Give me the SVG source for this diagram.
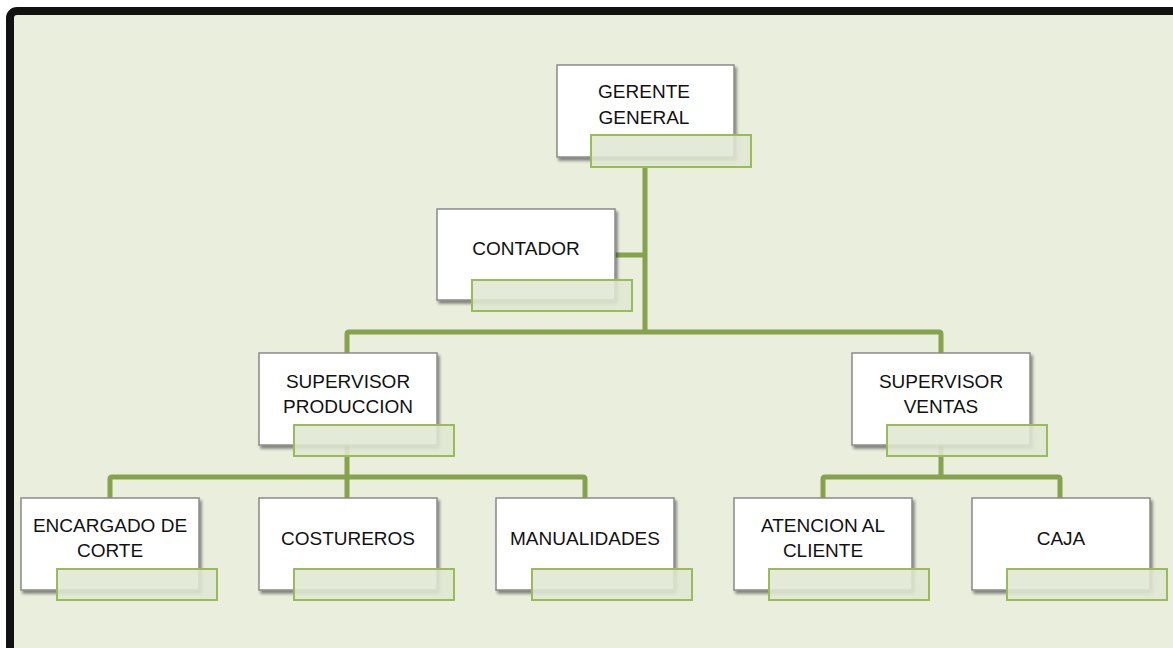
<svg xmlns="http://www.w3.org/2000/svg" width="1173" height="648" viewBox="0 0 1173 648">
<defs>
<filter id="sh" x="-10%" y="-10%" width="130%" height="140%">
<feGaussianBlur in="SourceAlpha" stdDeviation="1.5"/>
<feOffset dx="2" dy="3" result="o"/>
<feComponentTransfer><feFuncA type="linear" slope="0.45"/></feComponentTransfer>
<feMerge><feMergeNode/><feMergeNode in="SourceGraphic"/></feMerge>
</filter>
</defs>
<style>
.box{fill:#ffffff;stroke:#8a8a8a;stroke-width:1.5;filter:url(#sh)}
.lbl{fill:#dfe7d1;fill-opacity:0.88;stroke:#9bbb59;stroke-width:2}
.t{font-family:"Liberation Sans",Arial,sans-serif;font-size:19px;fill:#111;text-anchor:middle}
.c{fill:none;stroke:#85a24d;stroke-width:5;stroke-linejoin:round}
</style>
<rect x="0" y="0" width="1173" height="648" fill="#ffffff"/>
<rect x="10" y="11" width="1200" height="700" rx="7" fill="#eaeedd" stroke="#111111" stroke-width="8"/>
<g id="connectors">
<path class="c" d="M645 167 V332"/>
<path class="c" d="M615 255 H645"/>
<path class="c" d="M347 353 V334 Q347 332 349 332 H939 Q941 332 941 334 V353"/>
<path class="c" d="M347 445 V477"/>
<path class="c" d="M110 498 V479 Q110 477 112 477 H583 Q585 477 585 479 V498"/>
<path class="c" d="M347 477 V498"/>
<path class="c" d="M941 445 V477"/>
<path class="c" d="M823 498 V479 Q823 477 825 477 H1058 Q1060 477 1060 479 V498"/>
</g>
<g id="gerente">
<rect class="box" x="557" y="65" width="177" height="92"/>
<text class="t" x="644" y="98">GERENTE</text>
<text class="t" x="644" y="124">GENERAL</text>
<rect class="lbl" x="591" y="135" width="160" height="32"/>
</g>
<g id="contador">
<rect class="box" x="437" y="209" width="178" height="91"/>
<text class="t" x="526" y="255">CONTADOR</text>
<rect class="lbl" x="472" y="280" width="160" height="31"/>
</g>
<g id="sup-produccion">
<rect class="box" x="259" y="353" width="178" height="92"/>
<text class="t" x="348" y="388">SUPERVISOR</text>
<text class="t" x="348" y="413">PRODUCCION</text>
<rect class="lbl" x="294" y="425" width="160" height="31"/>
</g>
<g id="sup-ventas">
<rect class="box" x="852" y="353" width="178" height="92"/>
<text class="t" x="941" y="388">SUPERVISOR</text>
<text class="t" x="941" y="413">VENTAS</text>
<rect class="lbl" x="887" y="425" width="160" height="31"/>
</g>
<g id="encargado">
<rect class="box" x="21" y="498" width="178" height="92"/>
<text class="t" x="110" y="532">ENCARGADO DE</text>
<text class="t" x="110" y="557">CORTE</text>
<rect class="lbl" x="57" y="569" width="160" height="31"/>
</g>
<g id="costureros">
<rect class="box" x="259" y="498" width="178" height="92"/>
<text class="t" x="348" y="545">COSTUREROS</text>
<rect class="lbl" x="294" y="569" width="160" height="31"/>
</g>
<g id="manualidades">
<rect class="box" x="496" y="498" width="178" height="92"/>
<text class="t" x="585" y="545">MANUALIDADES</text>
<rect class="lbl" x="532" y="569" width="160" height="31"/>
</g>
<g id="atencion">
<rect class="box" x="734" y="498" width="178" height="92"/>
<text class="t" x="823" y="532">ATENCION AL</text>
<text class="t" x="823" y="557">CLIENTE</text>
<rect class="lbl" x="769" y="569" width="160" height="31"/>
</g>
<g id="caja">
<rect class="box" x="972" y="498" width="178" height="92"/>
<text class="t" x="1061" y="545">CAJA</text>
<rect class="lbl" x="1007" y="569" width="160" height="31"/>
</g>
</svg>
